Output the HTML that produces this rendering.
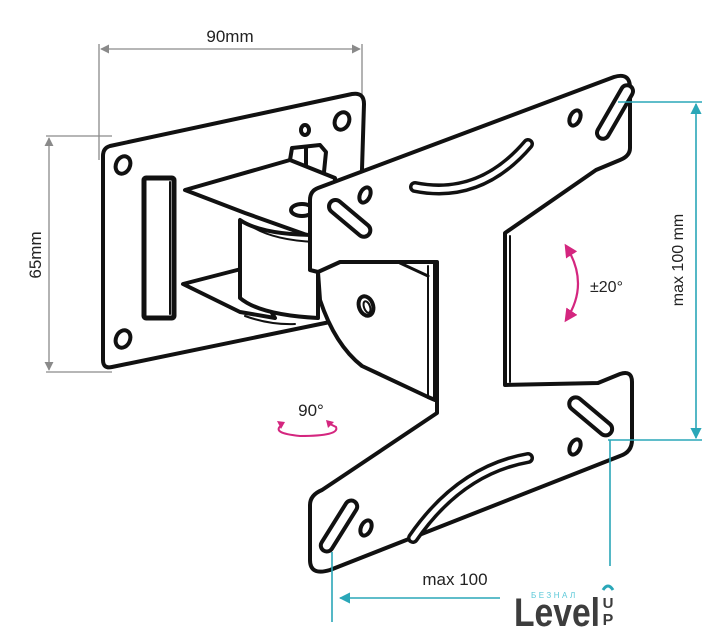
<!DOCTYPE html>
<html><head><meta charset="utf-8"><style>
html,body{margin:0;padding:0;background:#fff;}
svg{display:block;font-family:"Liberation Sans",sans-serif;}
</style></head><body>
<svg width="727" height="640" viewBox="0 0 727 640" xmlns="http://www.w3.org/2000/svg">
<defs>
<marker id="ag" viewBox="0 0 10 10" refX="9" refY="5" markerWidth="7" markerHeight="7" orient="auto-start-reverse"><path d="M0,0 L10,5 L0,10 z" fill="#8a8a8a"/></marker>
<marker id="ac" viewBox="0 0 10 10" refX="9" refY="5" markerWidth="7" markerHeight="7" orient="auto-start-reverse"><path d="M0,0 L10,5 L0,10 z" fill="#2aa7b8"/></marker>
<marker id="am" viewBox="0 0 10 10" refX="8" refY="5" markerWidth="6" markerHeight="6" orient="auto-start-reverse"><path d="M0,0 L10,5 L0,10 z" fill="#d4267f"/></marker>
</defs>

<g stroke="#8a8a8a" stroke-width="1.3" fill="none">
<line x1="99" y1="44" x2="99" y2="160"/>
<line x1="362" y1="44" x2="362" y2="100"/>
<line x1="101" y1="49" x2="360" y2="49" marker-start="url(#ag)" marker-end="url(#ag)"/>
<line x1="46" y1="136" x2="112" y2="136"/>
<line x1="46" y1="372" x2="112" y2="372"/>
<line x1="49" y1="138" x2="49" y2="370" marker-start="url(#ag)" marker-end="url(#ag)"/>
</g>
<text x="230" y="42" font-size="17" text-anchor="middle" fill="#222">90mm</text>
<text transform="translate(41,255) rotate(-90)" font-size="17" text-anchor="middle" fill="#222">65mm</text>

<g stroke="#111" stroke-width="4" fill="#fff" stroke-linejoin="round" stroke-linecap="round">
<path d="M110,146 L352,94 Q364,92 364,104 L358,300 L330,322 L112,367 Q103,369 103,360 L103,156 Q103,148 110,146 Z"/>
<ellipse cx="123" cy="165" rx="7" ry="9" transform="rotate(25 123 165)"/>
<ellipse cx="342" cy="121" rx="7" ry="9" transform="rotate(25 342 121)"/>
<ellipse cx="305" cy="130" rx="4" ry="5"/>
<ellipse cx="123" cy="339" rx="7" ry="9" transform="rotate(25 123 339)"/>
<path d="M290,160 L292,148 L320,145 L326,152 L324,172"/>
<line x1="306" y1="147" x2="306" y2="168"/>
<path d="M185,190 L290,160 L335,178 L335,245 L245,213 Z"/>
<path d="M183,284 L245,268 L275,318 L240,312 Z"/>
<path d="M240,220 L240,298 Q260,315 318,318 L318,235 Q262,235 240,220 Z"/>
<path d="M248,224 Q270,240 315,242" fill="none" stroke-width="2"/>
<path d="M245,316 Q270,325 295,324" fill="none" stroke-width="2"/>
<ellipse cx="302" cy="210" rx="11" ry="6"/>
<rect x="144" y="178" width="30" height="140" rx="2" stroke-width="5"/>
<line x1="170" y1="182" x2="170" y2="314" stroke-width="2"/>
</g>

<g stroke="#111" stroke-width="4" fill="#fff" stroke-linejoin="round" stroke-linecap="round">
<path d="M318,188 L614,77 Q630,72 630,88 L630,148 Q630,156 620,160 L596,170 L505,233 L505,385 L598,383 L620,374 Q632,370 632,382 L632,440 Q632,452 620,456 L330,570 Q310,576 310,560 L310,505 Q310,495 322,490 L340,478 L437,413 L437,262 L318,272 L310,270 L310,200 Q310,191 318,188 Z"/>
<path d="M318,272 L340,262 L435,262 L435,400 L428,397 L362,366 Q335,345 320,300 Z"/>
<line x1="428" y1="266" x2="428" y2="398" stroke-width="2"/>
<path d="M400,263 L428,276" fill="none" stroke-width="3"/>
<ellipse cx="366" cy="306" rx="7" ry="10" transform="rotate(-20 366 306)"/>
<ellipse cx="367" cy="307" rx="3" ry="6" transform="rotate(-20 367 307)" stroke-width="2"/>
<rect x="325" y="212" width="50" height="13" rx="6.5" transform="rotate(40 350 218)"/>
<rect x="585" y="106" width="60" height="12" rx="6" transform="rotate(-60 615 112)" />
<rect x="565" y="410" width="52" height="13" rx="6.5" transform="rotate(40 591 416)"/>
<rect x="310" y="520" width="58" height="12" rx="6" transform="rotate(-58 339 526)"/>
<ellipse cx="365" cy="195" rx="5" ry="8" transform="rotate(25 365 195)"/>
<ellipse cx="575" cy="118" rx="5" ry="8" transform="rotate(25 575 118)"/>
<ellipse cx="575" cy="447" rx="5" ry="8" transform="rotate(25 575 447)"/>
<ellipse cx="366" cy="528" rx="5" ry="8" transform="rotate(25 366 528)"/>
<path d="M415,187 Q480,200 528,144" fill="none" stroke-width="12"/>
<path d="M415,187 Q480,200 528,144" fill="none" stroke="#fff" stroke-width="5"/>
<path d="M413,538 Q460,470 528,458" fill="none" stroke-width="12"/>
<path d="M413,538 Q460,470 528,458" fill="none" stroke="#fff" stroke-width="5"/>
<line x1="510" y1="236" x2="510" y2="382" stroke-width="2"/>
</g>

<path d="M566,246 Q590,284 566,320" fill="none" stroke="#d4267f" stroke-width="2.2" marker-start="url(#am)" marker-end="url(#am)"/>
<text x="590" y="292" font-size="16" fill="#222">±20°</text>
<text x="311" y="416" font-size="17" text-anchor="middle" fill="#222">90°</text>
<path d="M282,425 Q270,433 300,436 Q340,436 336,427 L330,424" fill="none" stroke="#d4267f" stroke-width="2"/>
<path d="M277,421 l8,1 l-4,7 z" fill="#d4267f"/>
<path d="M326,420 l8,2 l-6,6 z" fill="#d4267f"/>

<g stroke="#2aa7b8" stroke-width="1.6" fill="none">
<line x1="618" y1="102" x2="702" y2="102"/>
<line x1="608" y1="440" x2="702" y2="440"/>
<line x1="696" y1="104" x2="696" y2="438" marker-start="url(#ac)" marker-end="url(#ac)"/>
<line x1="610" y1="440" x2="610" y2="566"/>
<line x1="332" y1="552" x2="332" y2="622"/>
<line x1="500" y1="598" x2="340" y2="598" marker-end="url(#ac)"/>
</g>
<text transform="translate(683,260) rotate(-90)" font-size="16" text-anchor="middle" fill="#222">max 100 mm</text>
<text x="455" y="585" font-size="17" text-anchor="middle" fill="#222">max 100</text>

<text x="531" y="598" font-size="8" fill="#5bc8d8" letter-spacing="2.5">БЕЗНАЛ</text>
<text x="514" y="626" font-family="Liberation Sans Narrow, Liberation Sans, sans-serif" font-weight="bold" font-size="40" fill="#3d3d3d" textLength="86" lengthAdjust="spacingAndGlyphs">Level</text>
<path d="M603,590 Q608,582 613,590" fill="none" stroke="#2aa7b8" stroke-width="3"/>
<text x="608" y="608" font-weight="bold" font-size="15" text-anchor="middle" fill="#3d3d3d">U</text>
<text x="608" y="625" font-weight="bold" font-size="16" text-anchor="middle" fill="#3d3d3d">P</text>
</svg>
</body></html>
